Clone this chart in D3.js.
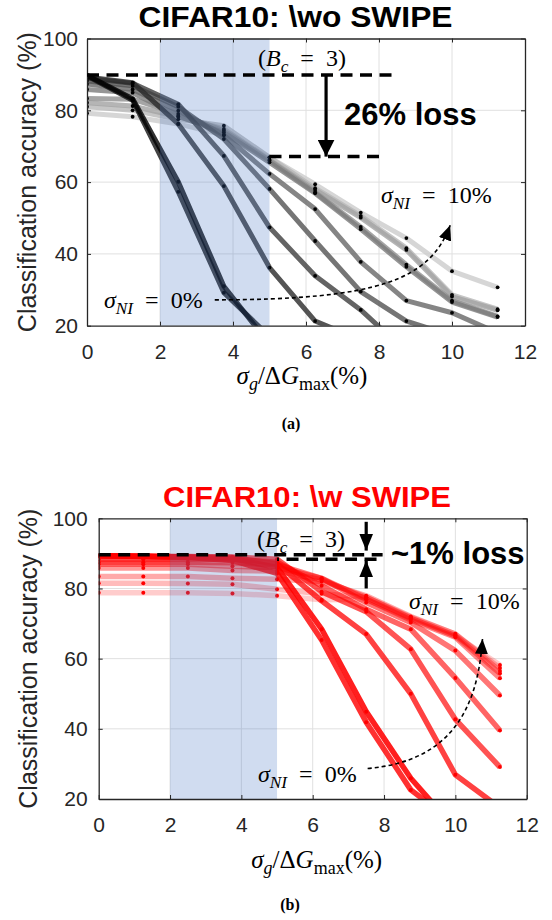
<!DOCTYPE html>
<html>
<head>
<meta charset="utf-8">
<script src="https://cdn.jsdelivr.net/npm/d3@7"></script>
<style>
  body { margin: 0; background: #fff; }
  svg { display: block; }
</style>
</head>
<body>
<svg id="fig" width="552" height="920"></svg>
<script>
// Conductance-variation sweep (x axis, % of ΔGmax)
const sigmaG = [0, 1.25, 2.5, 3.75, 5, 6.25, 7.5, 8.75, 10, 11.25];
// Noise-injection levels σ_NI (%), one curve each
const noiseLevels = [0, 1, 2, 3, 4, 5, 6, 7, 8, 9, 10];

// Classification accuracy (%) without SWIPE, one row per noise level
const accWithoutSwipe = [
  [89.8, 83.2, 60.1, 31.0, 14.8],
  [89.6, 82.8, 57.3, 29.2, 17.0],
  [89.3, 87.7, 76.2, 58.9, 36.2, 21.3, 16.0],
  [88.9, 87.5, 81.7, 67.3, 47.4, 33.9, 24.4, 12.7],
  [88.2, 86.8, 81.0, 72.0, 58.1, 43.6, 29.5, 21.3, 17.2],
  [87.3, 85.8, 79.9, 73.1, 62.3, 52.5, 37.8, 27.0, 23.6, 18.0],
  [85.8, 84.9, 78.4, 73.8, 65.5, 56.9, 46.9, 36.4, 26.6, 22.4],
  [83.3, 83.1, 79.0, 74.3, 66.0, 57.2, 47.5, 37.0, 27.0, 22.6],
  [82.1, 81.2, 78.2, 74.8, 66.2, 57.8, 50.1, 41.1, 28.1, 24.3],
  [81.0, 80.0, 77.5, 75.7, 66.9, 58.3, 50.6, 41.6, 28.6, 24.6],
  [79.2, 78.2, 76.2, 73.1, 66.9, 59.4, 51.5, 44.4, 35.2, 30.7]
];

// Classification accuracy (%) with SWIPE, one row per noise level
const accWithSwipe = [
  [89.3, 89.2, 89.0, 88.5, 86.0, 68.4, 44.9, 25.9, 11.5],
  [89.3, 89.1, 88.8, 88.0, 84.3, 65.3, 41.9, 22.6, 13.0],
  [89.3, 89.2, 89.0, 88.8, 87.0, 76.5, 67.0, 50.0, 26.9, 17.5],
  [89.3, 89.2, 89.1, 89.0, 88.3, 79.1, 73.4, 62.7, 42.7, 29.1],
  [88.3, 88.3, 88.3, 88.3, 87.5, 80.8, 74.1, 68.4, 54.5, 39.5],
  [87.5, 87.5, 87.5, 87.3, 86.8, 82.9, 76.0, 70.3, 62.3, 49.5],
  [86.9, 86.9, 86.9, 86.3, 86.0, 82.9, 76.9, 71.0, 66.1, 54.4],
  [85.8, 85.8, 85.8, 85.1, 85.0, 82.5, 77.5, 71.5, 66.5, 55.8],
  [83.4, 83.4, 83.4, 82.9, 82.6, 82.0, 77.9, 72.0, 67.0, 56.5],
  [81.5, 81.5, 81.4, 81.2, 79.8, 78.5, 77.5, 71.8, 67.0, 57.3],
  [78.8, 78.8, 78.8, 78.6, 77.9, 76.8, 76.9, 71.5, 66.5, 58.2]
];

const xTicks = [0, 2, 4, 6, 8, 10, 12];
const yTicks = [20, 40, 60, 80, 100];
const shadedRange = [2, 5];        // σg window covered by Bc = 3
const baselineAcc = [89.8, 89.6];  // reference accuracy line, (a) and (b)
const worstAcc = [67.1, 88.3];     // accuracy at the end of the window, (a) and (b)

const SANS = "'Liberation Sans', Arial, sans-serif";
const SERIF = "'Liberation Serif', 'DejaVu Serif', serif";
const AX = "#262626";
const EQ = "\u2002=\u2002";

const svg = d3.select("#fig");
const defs = svg.append("defs");

function arrowMarker(id, len, wid) {
  defs.append("marker")
    .attr("id", id)
    .attr("viewBox", `0 0 ${len} ${wid}`)
    .attr("refX", len).attr("refY", wid / 2)
    .attr("markerUnits", "userSpaceOnUse")
    .attr("markerWidth", len).attr("markerHeight", wid)
    .attr("orient", "auto")
    .append("path")
    .attr("d", `M0,0 L${len},${wid / 2} L0,${wid} Z`)
    .attr("fill", "#000");
}
arrowMarker("headBig", 17, 17);
arrowMarker("headMid", 17, 14);
arrowMarker("headSmall", 15, 13);

// Rich math-style text: parts = [{t, i: italic, sub: subscript}]
function mathText(parent, px, py, parts, size, anchor = "start") {
  const t = parent.append("text")
    .attr("x", px).attr("y", py)
    .attr("font-family", SERIF)
    .attr("font-size", size)
    .attr("fill", "#000")
    .attr("text-anchor", anchor);
  let shifted = false;
  parts.forEach(p => {
    const s = t.append("tspan").text(p.t)
      .attr("font-style", p.i ? "italic" : "normal");
    if (p.sub) {
      s.attr("font-size", size * 0.72);
      if (!shifted) { s.attr("dy", size * 0.25); shifted = true; }
    } else if (shifted) {
      s.attr("dy", -size * 0.25); shifted = false;
    }
  });
  return t;
}

function drawPanel(cfg) {
  const x = d3.scaleLinear().domain([0, 12]).range([cfg.left, cfg.right]);
  const y = d3.scaleLinear().domain([20, 100]).range([cfg.bottom, cfg.top]);
  const g = svg.append("g");

  defs.append("clipPath").attr("id", cfg.id + "-clip")
    .append("rect")
    .attr("x", cfg.left).attr("y", cfg.top)
    .attr("width", cfg.right - cfg.left).attr("height", cfg.bottom - cfg.top);

  // grid
  const grid = g.append("g").attr("stroke", "#e0e0e0").attr("stroke-width", 1);
  grid.selectAll("line.gx").data(xTicks.slice(1, -1)).join("line")
    .attr("class", "gx")
    .attr("x1", d => x(d)).attr("x2", d => x(d))
    .attr("y1", cfg.top).attr("y2", cfg.bottom);
  grid.selectAll("line.gy").data(yTicks.slice(1, -1)).join("line")
    .attr("class", "gy")
    .attr("y1", d => y(d)).attr("y2", d => y(d))
    .attr("x1", cfg.left).attr("x2", cfg.right);

  // curves, lightest (σNI = 10%) underneath
  const plot = g.append("g").attr("clip-path", `url(#${cfg.id}-clip)`);
  const line = d3.line().x((d, i) => x(sigmaG[i])).y(d => y(d));
  const order = noiseLevels.map((n, k) => k).reverse();
  plot.selectAll("path.curve").data(order).join("path")
    .attr("class", "curve")
    .attr("d", k => line(cfg.series[k]))
    .attr("fill", "none")
    .attr("stroke", k => cfg.color(k))
    .attr("stroke-opacity", k => cfg.opacity(k))
    .attr("stroke-width", cfg.lineWidth)
    .attr("stroke-linejoin", "round");

  const pts = cfg.series.flatMap((s, k) => s.map((v, i) => ({ sx: sigmaG[i], v, k })))
    .filter(p => p.v >= 20);
  plot.selectAll("circle").data(pts).join("circle")
    .attr("cx", p => x(p.sx)).attr("cy", p => y(p.v))
    .attr("r", cfg.dotR).attr("fill", cfg.dotColor);

  // shaded σg window
  g.append("rect")
    .attr("x", x(shadedRange[0])).attr("y", cfg.top)
    .attr("width", x(shadedRange[1]) - x(shadedRange[0]))
    .attr("height", cfg.bottom - cfg.top)
    .attr("fill", "rgb(68,114,196)").attr("fill-opacity", 0.25);

  // axes (ticks pointing inward, box on)
  const styleAxis = sel => {
    sel.select(".domain").attr("stroke", AX).attr("stroke-width", 1.3);
    sel.selectAll(".tick line").attr("stroke", AX).attr("stroke-width", 1);
    sel.selectAll(".tick text").attr("fill", AX)
      .attr("font-family", SANS).attr("font-size", 21);
  };
  g.append("g").attr("transform", `translate(0,${cfg.bottom})`)
    .call(d3.axisBottom(x).tickValues(xTicks).tickSize(-4).tickSizeOuter(0).tickPadding(18))
    .call(styleAxis);
  g.append("g").attr("transform", `translate(0,${cfg.top})`)
    .call(d3.axisTop(x).tickValues(xTicks).tickSize(-4).tickSizeOuter(0).tickFormat(""))
    .call(styleAxis);
  g.append("g").attr("transform", `translate(${cfg.left},0)`)
    .call(d3.axisLeft(y).tickValues(yTicks).tickSize(-4).tickSizeOuter(0).tickPadding(cfg.yPad))
    .call(styleAxis);
  g.append("g").attr("transform", `translate(${cfg.right},0)`)
    .call(d3.axisRight(y).tickValues(yTicks).tickSize(-4).tickSizeOuter(0).tickFormat(""))
    .call(styleAxis);

  // axis titles
  g.append("text")
    .attr("transform", `translate(${cfg.yLabelX},${(cfg.top + cfg.bottom) / 2}) rotate(-90)`)
    .attr("text-anchor", "middle")
    .attr("font-family", SANS).attr("font-size", 25).attr("fill", AX)
    .text("Classification accuracy (%)");
  mathText(g, cfg.xLabelX, cfg.xLabelY, [
    { t: "σ", i: true }, { t: "g", i: true, sub: true },
    { t: "/Δ" }, { t: "G", i: true }, { t: "max", sub: true }, { t: "(%)" }
  ], 25, "middle");

  // title
  g.append("text")
    .attr("x", cfg.titleX).attr("y", cfg.titleY)
    .attr("text-anchor", "middle")
    .attr("font-family", SANS).attr("font-weight", "bold").attr("font-size", 29)
    .attr("fill", cfg.titleColor)
    .attr("textLength", cfg.titleLen).attr("lengthAdjust", "spacingAndGlyphs")
    .text(cfg.title);

  // panel tag
  g.append("text")
    .attr("x", cfg.tagX).attr("y", cfg.tagY)
    .attr("text-anchor", "middle")
    .attr("font-family", SERIF).attr("font-weight", "bold").attr("font-size", 16)
    .text(cfg.tag);

  return { x, y, g };
}

// ---------- (a) without SWIPE ----------
const grayLevel = k => Math.round(k * 0.08 * 255);
const A = drawPanel({
  id: "pa", left: 87, right: 525, top: 38.5, bottom: 325.7,
  series: accWithoutSwipe,
  color: k => `rgb(${grayLevel(k)},${grayLevel(k)},${grayLevel(k)})`,
  opacity: k => 0.8,
  lineWidth: 5, dotR: 1.9, dotColor: "#000",
  yPad: 9, yLabelX: 36,
  xLabelX: 302, xLabelY: 384,
  title: "CIFAR10: \\wo SWIPE", titleColor: "#000", titleX: 295.5, titleY: 27, titleLen: 314,
  tag: "(a)", tagX: 291, tagY: 429
});

// ---------- (b) with SWIPE ----------
const B = drawPanel({
  id: "pb", left: 98.7, right: 526.7, top: 518.3, bottom: 799,
  series: accWithSwipe,
  color: k => "#ff0000",
  opacity: k => 0.88 - k * 0.068,
  lineWidth: 5.5, dotR: 2, dotColor: "#ff0000",
  yPad: 11, yLabelX: 37,
  xLabelX: 316.7, xLabelY: 868,
  title: "CIFAR10: \\w SWIPE", titleColor: "#ff0000", titleX: 307, titleY: 507, titleLen: 288,
  tag: "(b)", tagX: 290, tagY: 910
});

// ---------- annotations (a) ----------
(function () {
  const { x, y, g } = A;
  const ann = g.append("g");
  ann.append("line")
    .attr("x1", x(0)).attr("x2", x(8.48))
    .attr("y1", y(baselineAcc[0])).attr("y2", y(baselineAcc[0]))
    .attr("stroke", "#000").attr("stroke-width", 3.5).attr("stroke-dasharray", "12 7.5");
  ann.append("line")
    .attr("x1", x(shadedRange[1])).attr("x2", x(8.12))
    .attr("y1", y(worstAcc[0])).attr("y2", y(worstAcc[0]))
    .attr("stroke", "#000").attr("stroke-width", 3.5).attr("stroke-dasharray", "12 7.5");
  ann.append("line")
    .attr("x1", x(6.55)).attr("x2", x(6.55))
    .attr("y1", y(baselineAcc[0])).attr("y2", y(worstAcc[0]))
    .attr("stroke", "#000").attr("stroke-width", 3.2)
    .attr("marker-end", "url(#headBig)");
  ann.append("text")
    .attr("x", 344).attr("y", 125)
    .attr("font-family", SANS).attr("font-weight", "bold").attr("font-size", 31)
    .text("26% loss");
  mathText(ann, 258, 66, [
    { t: "(" }, { t: "B", i: true }, { t: "c", i: true, sub: true }, { t: EQ + "3)" }
  ], 24);
  mathText(ann, 381, 203, [
    { t: "σ", i: true }, { t: "NI", i: true, sub: true }, { t: EQ + "10%" }
  ], 24);
  mathText(ann, 104, 308, [
    { t: "σ", i: true }, { t: "NI", i: true, sub: true }, { t: EQ + "0%" }
  ], 24);
  const p0 = [x(3.5), y(27.2)], c1 = [x(7.99), y(27.2)], c2 = [x(9.4), y(32.8)], p1 = [x(9.95), y(48.0)];
  const path = d3.path();
  path.moveTo(...p0); path.bezierCurveTo(...c1, ...c2, ...p1);
  ann.append("path").attr("d", path.toString())
    .attr("fill", "none").attr("stroke", "#000").attr("stroke-width", 1.6)
    .attr("stroke-dasharray", "4 3")
    .attr("marker-end", "url(#headSmall)");
})();

// ---------- annotations (b) ----------
(function () {
  const { x, y, g } = B;
  const ann = g.append("g");
  ann.append("line")
    .attr("x1", x(0)).attr("x2", x(7.96))
    .attr("y1", y(baselineAcc[1])).attr("y2", y(baselineAcc[1]))
    .attr("stroke", "#000").attr("stroke-width", 3.5).attr("stroke-dasharray", "12 7.5");
  ann.append("line")
    .attr("x1", x(shadedRange[1])).attr("x2", x(7.96))
    .attr("y1", y(worstAcc[1])).attr("y2", y(worstAcc[1]))
    .attr("stroke", "#000").attr("stroke-width", 3.5).attr("stroke-dasharray", "12 7.5")
    .attr("stroke-dashoffset", 10);
  ann.append("line")
    .attr("x1", x(7.5)).attr("x2", x(7.5))
    .attr("y1", y(99)).attr("y2", y(90.8))
    .attr("stroke", "#000").attr("stroke-width", 3.2)
    .attr("marker-end", "url(#headMid)");
  ann.append("line")
    .attr("x1", x(7.5)).attr("x2", x(7.5))
    .attr("y1", y(80)).attr("y2", y(88.0))
    .attr("stroke", "#000").attr("stroke-width", 3.2)
    .attr("marker-end", "url(#headMid)");
  ann.append("text")
    .attr("x", 391).attr("y", 564)
    .attr("font-family", SANS).attr("font-weight", "bold").attr("font-size", 31)
    .text("~1% loss");
  mathText(ann, 257, 547, [
    { t: "(" }, { t: "B", i: true }, { t: "c", i: true, sub: true }, { t: EQ + "3)" }
  ], 24);
  mathText(ann, 409, 609, [
    { t: "σ", i: true }, { t: "NI", i: true, sub: true }, { t: EQ + "10%" }
  ], 24);
  mathText(ann, 258, 782, [
    { t: "σ", i: true }, { t: "NI", i: true, sub: true }, { t: EQ + "0%" }
  ], 24);
  const p0 = [x(7.54), y(28.7)], c1 = [x(9.99), y(30.8)], c2 = [x(10.64), y(47.3)], p1 = [x(10.76), y(65.6)];
  const path = d3.path();
  path.moveTo(...p0); path.bezierCurveTo(...c1, ...c2, ...p1);
  ann.append("path").attr("d", path.toString())
    .attr("fill", "none").attr("stroke", "#000").attr("stroke-width", 1.6)
    .attr("stroke-dasharray", "4 3")
    .attr("marker-end", "url(#headSmall)");
})();
</script>
</body>
</html>
